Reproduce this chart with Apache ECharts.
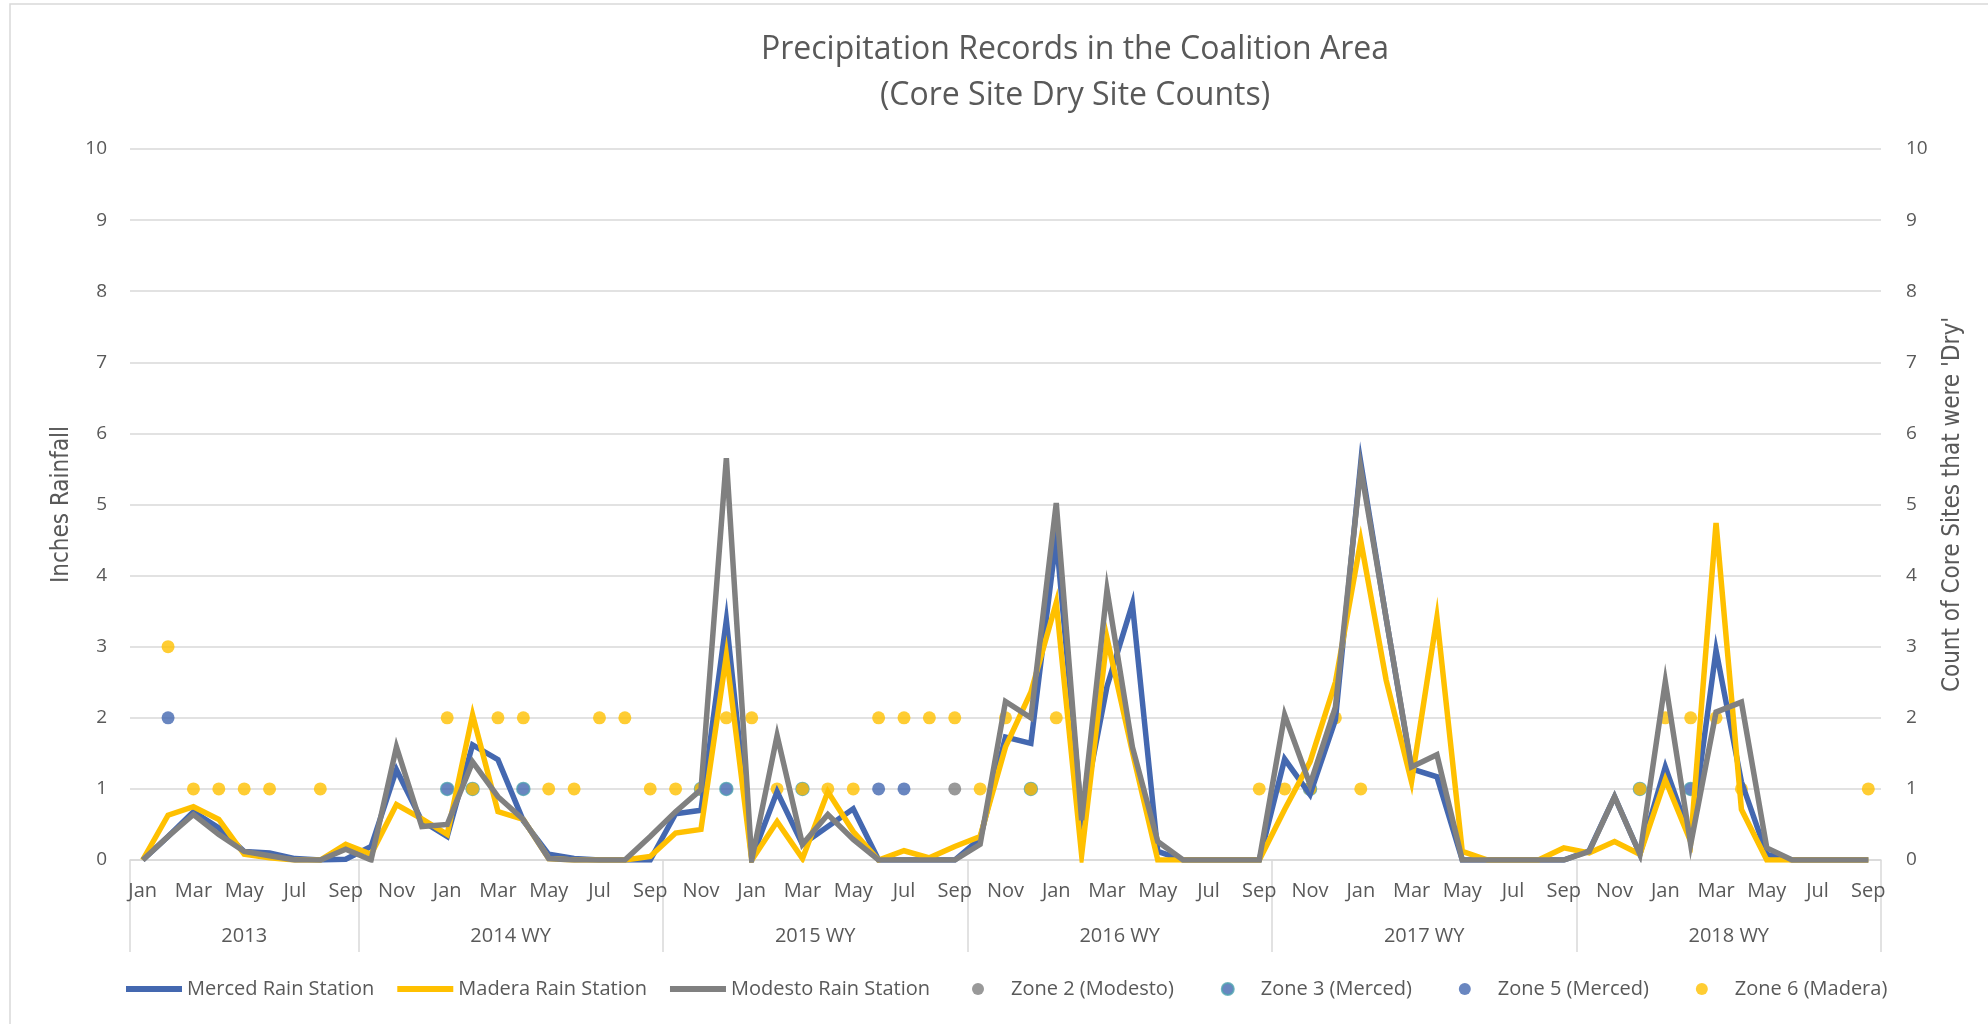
<!DOCTYPE html>
<html>
<head>
<meta charset="utf-8">
<script src="https://cdn.jsdelivr.net/npm/echarts@6/dist/echarts.min.js"></script>
<style>
  html, body { margin: 0; padding: 0; background: #fff; }
  #chart { width: 1988px; height: 1024px; }
</style>
</head>
<body>
<div id="chart"></div>
<script>
// month labels and water-year groups
var monthNames = ["Jan", "Feb", "Mar", "Apr", "May", "Jun", "Jul", "Aug", "Sep", "Oct", "Nov", "Dec"]
var yearGroups = ["2013", "2014 WY", "2015 WY", "2016 WY", "2017 WY", "2018 WY"]
var groupStart = [0, 9, 9, 9, 9, 9]
var groupLength = [9, 12, 12, 12, 12, 12]

// inches rainfall, Jan 2013 .. Sep 2018
var merced = [
  0, 0.33, 0.68, 0.45, 0.12, 0.10, 0.02, 0, 0.01,
  0.19, 1.27, 0.55, 0.33, 1.62, 1.41, 0.55, 0.08, 0.02, 0, 0, 0,
  0.65, 0.70, 3.37, 0.03, 0.96, 0.22, 0.47, 0.72, 0, 0, 0, 0,
  0.30, 1.73, 1.64, 4.53, 0.60, 2.44, 3.60, 0.12, 0, 0, 0, 0,
  1.42, 0.92, 1.97, 5.59, 3.40, 1.28, 1.17, 0, 0, 0, 0, 0,
  0.13, 0.89, 0.08, 1.31, 0.30, 2.95, 1.10, 0.08, 0, 0, 0, 0
]
var madera = [
  0, 0.63, 0.75, 0.57, 0.08, 0.03, 0, 0, 0.22,
  0.08, 0.78, 0.58, 0.36, 2.04, 0.68, 0.57, 0.02, 0, 0, 0, 0.05,
  0.38, 0.43, 2.88, 0, 0.54, 0.02, 0.96, 0.40, 0, 0.13, 0.03, 0.19,
  0.33, 1.59, 2.36, 3.62, 0.07, 3.12, 1.52, 0, 0, 0, 0, 0,
  0.71, 1.38, 2.50, 4.49, 2.53, 1.10, 3.41, 0.12, 0, 0, 0, 0.17,
  0.10, 0.26, 0.08, 1.13, 0.26, 4.74, 0.71, 0, 0, 0, 0, 0
]
var modesto = [
  0, 0.33, 0.64, 0.36, 0.12, 0.06, 0, 0, 0.15,
  0, 1.59, 0.47, 0.50, 1.38, 0.89, 0.57, 0.02, 0, 0, 0, 0.33,
  0.68, 0.99, 5.65, 0, 1.75, 0.22, 0.64, 0.29, 0, 0, 0, 0,
  0.22, 2.23, 2.00, 5.02, 0.56, 3.80, 1.59, 0.26, 0, 0, 0, 0,
  2.04, 1.06, 2.15, 5.51, 3.40, 1.31, 1.48, 0, 0, 0, 0, 0,
  0.12, 0.89, 0.08, 2.51, 0.22, 2.08, 2.22, 0.17, 0, 0, 0, 0
]

// dry core site counts: [month index, count]
var zone2 = [[32, 1]]
var zone3 = [[12, 1], [13, 1], [15, 1], [22, 1], [23, 1], [26, 1], [35, 1], [46, 1], [59, 1], [61, 1]]
var zone5 = [[1, 2], [29, 1], [30, 1]]
var zone6 = [
  [1, 3], [2, 1], [3, 1], [4, 1], [5, 1], [7, 1],
  [12, 2], [13, 1], [14, 2], [15, 2], [16, 1], [17, 1], [18, 2], [19, 2], [20, 1],
  [21, 1], [22, 1], [23, 2], [24, 2], [25, 1], [26, 1], [27, 1], [28, 1], [29, 2], [30, 2], [31, 2], [32, 2],
  [33, 1], [34, 2], [35, 1], [36, 2], [44, 1],
  [45, 1], [46, 1], [47, 2], [48, 1],
  [59, 1], [60, 2], [61, 2], [62, 2], [63, 1], [68, 1]
]

var months = []
var groupEdges = [0]
var groupCenters = []
for (var g = 0; g < yearGroups.length; g++) {
  for (var k = 0; k < groupLength[g]; k++) {
    months.push(monthNames[(groupStart[g] + k) % 12])
  }
  groupCenters.push(groupEdges[g] + groupLength[g] / 2)
  groupEdges.push(groupEdges[g] + groupLength[g])
}

var font = "Open Sans"
var narrow = "'DejaVu Sans Condensed', 'Liberation Sans Narrow', 'Open Sans', sans-serif"
var textColor = "#595959"
var gridColor = "#d9d9d9"
var lineIcon = "path://M0,0 L56,0 L56,6 L0,6 Z"

var chart = echarts.init(document.getElementById("chart"))

function lineSeries(name, data, color) {
  return {
    name: name,
    type: "line",
    data: data,
    symbol: "none",
    lineStyle: { width: 5.5, color: color, join: "miter" },
    itemStyle: { color: color },
  }
}

function zoneSeries(name, data, color, border) {
  return {
    name: name,
    type: "scatter",
    yAxisIndex: 1,
    data: data,
    symbolSize: 13,
    itemStyle: {
      color: color,
      borderColor: border || color,
      borderWidth: border ? 1.5 : 0,
    },
  }
}

var option = {
  backgroundColor: "#fff",
  animation: false,
  title: {
    text: "Precipitation Records in the Coalition Area\n(Core Site Dry Site Counts)",
    left: 1070,
    top: 22,
    textAlign: "center",
    textStyle: {
      fontFamily: font,
      fontSize: 32,
      fontWeight: "normal",
      color: textColor,
      lineHeight: 46,
    },
  },
  graphic: [
    {
      type: "rect",
      shape: { x: 10, y: 4, width: 2000, height: 1060 },
      style: { fill: "none", stroke: gridColor, lineWidth: 1.5 },
      silent: true,
    },
  ],
  legend: [
    {
      top: 974,
      left: 121,
      itemWidth: 56,
      itemHeight: 12,
      itemGap: 23,
      textStyle: { fontFamily: font, fontSize: 20, color: textColor },
      data: [
        { name: "Merced Rain Station", icon: lineIcon },
        { name: "Madera Rain Station", icon: lineIcon },
        { name: "Modesto Rain Station", icon: lineIcon },
      ],
    },
    {
      top: 974,
      left: 967,
      itemWidth: 12,
      itemHeight: 12,
      itemGap: 47,
      textStyle: {
        fontFamily: font,
        fontSize: 20,
        color: textColor,
        padding: [0, 0, 0, 22],
      },
      data: [
        { name: "Zone 2 (Modesto)", icon: "circle" },
        { name: "Zone 3 (Merced)", icon: "circle" },
        { name: "Zone 5 (Merced)", icon: "circle" },
        { name: "Zone 6 (Madera)", icon: "circle" },
      ],
    },
  ],
  grid: { left: 130, right: 107, top: 149, bottom: 164 },
  xAxis: [
    {
      type: "category",
      data: months,
      boundaryGap: true,
      axisLine: { lineStyle: { color: gridColor, width: 1.5 } },
      axisTick: { show: false },
      axisLabel: {
        interval: 1,
        margin: 21,
        fontFamily: font,
        fontSize: 20,
        color: textColor,
      },
    },
    {
      type: "value",
      position: "bottom",
      min: 0,
      max: groupEdges[groupEdges.length - 1],
      axisLine: { show: false },
      splitLine: { show: false },
      axisTick: {
        show: true,
        customValues: groupEdges,
        length: 92,
        lineStyle: { color: gridColor, width: 1.5 },
      },
      axisLabel: {
        customValues: groupCenters,
        margin: 66,
        fontFamily: font,
        fontSize: 20,
        color: textColor,
        formatter: function (v) {
          return yearGroups[groupCenters.indexOf(v)]
        },
      },
    },
  ],
  yAxis: [
    {
      type: "value",
      min: 0,
      max: 10,
      interval: 1,
      name: "Inches Rainfall",
      nameLocation: "middle",
      nameRotate: 90,
      nameGap: 56,
      nameTextStyle: { fontFamily: narrow, fontSize: 24, color: textColor },
      axisLine: { show: false },
      axisTick: { show: false },
      splitLine: { lineStyle: { color: gridColor, width: 1.5 } },
      axisLabel: { margin: 23, fontFamily: font, fontSize: 19, color: textColor },
    },
    {
      type: "value",
      min: 0,
      max: 10,
      interval: 1,
      name: "Count of Core Sites that were 'Dry'",
      nameLocation: "middle",
      nameRotate: 90,
      nameGap: 60,
      nameTextStyle: { fontFamily: narrow, fontSize: 24, color: textColor },
      axisLine: { show: false },
      axisTick: { show: false },
      splitLine: { show: false },
      axisLabel: { margin: 25, fontFamily: font, fontSize: 19, color: textColor },
    },
  ],
  series: [
    lineSeries("Merced Rain Station", merced, "#4468b0"),
    lineSeries("Madera Rain Station", madera, "#ffc000"),
    lineSeries("Modesto Rain Station", modesto, "#808080"),
    zoneSeries("Zone 2 (Modesto)", zone2, "#808080"),
    zoneSeries("Zone 3 (Merced)", zone3, "#4468b0", "#4fa3b0"),
    zoneSeries("Zone 5 (Merced)", zone5, "#4468b0"),
    zoneSeries("Zone 6 (Madera)", zone6, "#ffc000"),
  ],
}

chart.setOption(option)
</script>
</body>
</html>
